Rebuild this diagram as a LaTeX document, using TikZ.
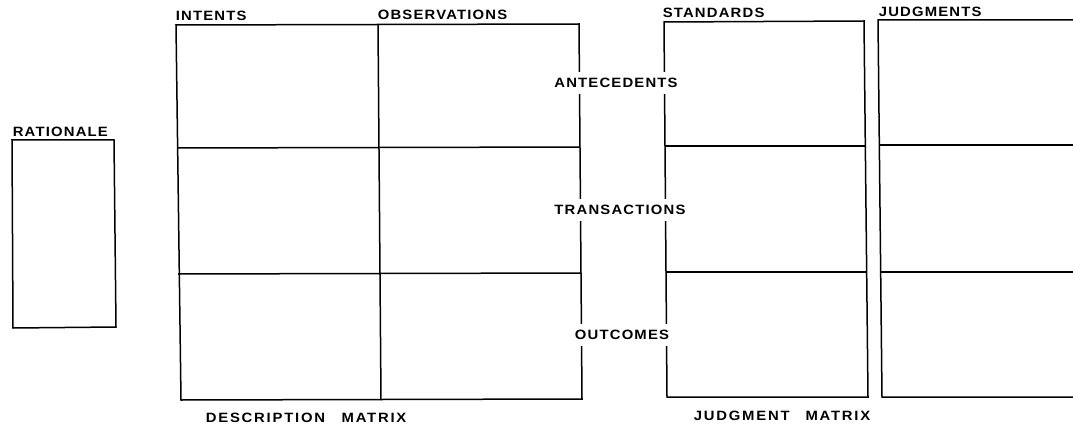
\documentclass[tikz,border=0pt]{standalone}
\usepackage{fontspec}
\newfontfamily\capsfont[LetterSpace=8]{Liberation Sans}
\newfontfamily\widefont[LetterSpace=12]{Liberation Sans}
\begin{document}
\begin{tikzpicture}[x=1pt,y=-1pt,line width=1.5pt,
        lbl/.style={font=\capsfont\bfseries\fontsize{13.5}{15}\selectfont,inner sep=0pt,xscale=1.1},
        matlbl/.style={lbl,font=\widefont\bfseries\fontsize{13.5}{15}\selectfont},
        rowlbl/.style={lbl,fill=white,inner xsep=2pt,inner ysep=6pt}]
        \useasboundingbox (0,0) rectangle (1073,425);
        % rationale
        \draw (12,140) -- (114,140) -- (116,327) -- (13,328) -- cycle;
        \node[lbl,anchor=west] (rat) at (12,132) {RATIONALE};
        % description matrix
        \draw (176,25) -- (579,24) -- (582,399) -- (181,400) -- cycle;
        \draw (378,25) -- (381,400);
        \draw (177,148) -- (580,147);
        \draw (178,274) -- (581,273);
        \node[lbl,anchor=west] (int) at (175,16) {INTENTS};
        \node[lbl,anchor=west] (obs) at (377,15) {OBSERVATIONS};
        \node[matlbl,anchor=west] (desc) at (205,418) {DESCRIPTION\hspace{15pt}MATRIX};
        % judgment matrix
        \draw (664,22) -- (864,21) -- (868,397) -- (667,397) -- cycle;
        \draw (665,146) -- (866,146);
        \draw (666,272) -- (867,272);
        \draw (1090,20) -- (878,20) -- (882,397) -- (1090,397);
        \draw (879,145) -- (1090,145);
        \draw (880,272) -- (1090,272);
        \node[lbl,anchor=west] (std) at (662,13) {STANDARDS};
        \node[lbl,anchor=west] (jdg) at (878,12) {JUDGMENTS};
        \node[matlbl,anchor=west] (jmat) at (693,416) {JUDGMENT\hspace{14.5pt}MATRIX};
        % row labels
        \node[rowlbl] (ante) at (616,83) {ANTECEDENTS};
        \node[rowlbl] (trans) at (620,210) {TRANSACTIONS};
        \node[rowlbl] (outc) at (622,335) {OUTCOMES};
    \end{tikzpicture}
\end{document}
